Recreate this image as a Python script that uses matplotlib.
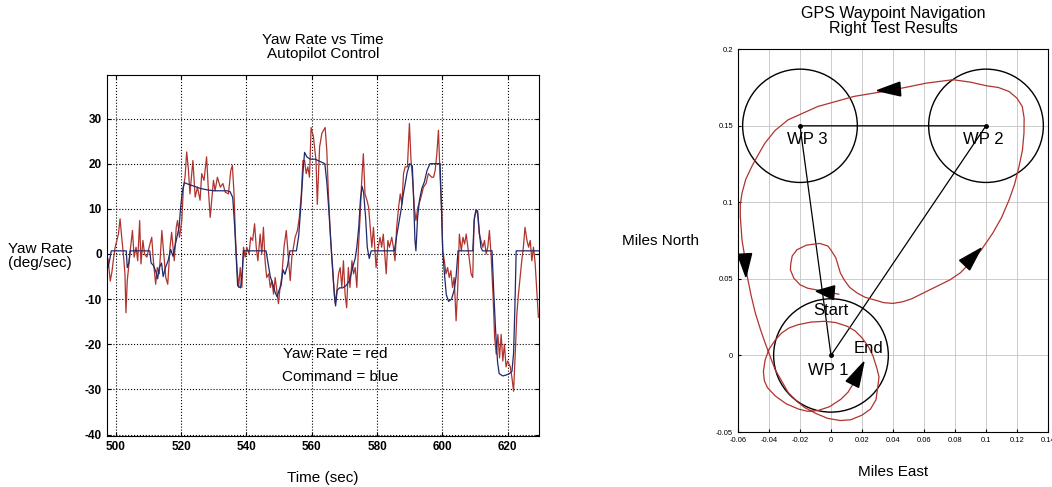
import matplotlib
matplotlib.use("Agg")
import matplotlib.pyplot as plt
from matplotlib.patches import Circle

plt.rcParams['font.family'] = ['Liberation Sans', 'DejaVu Sans']
plt.rcParams['axes.unicode_minus'] = False

# ---- Yaw rate vs time ----
red_t = [497.2, 497.6, 498.3, 498.8, 499.3, 499.8, 500.3, 500.8, 501.3, 501.8, 502.3, 502.8,
         503.1, 503.5, 503.9, 504.4, 505.1, 505.6, 506.2, 506.7, 507.3, 507.7, 508.3, 508.8,
         509.5, 510.2, 511.0, 511.5, 512.2, 512.7, 513.3, 514.1, 514.6, 515.3, 515.9, 516.6,
         517.1, 517.9, 518.5, 518.9, 519.5, 520.2, 520.7, 521.2, 521.7, 522.2, 522.7, 523.6,
         524.3, 525.0, 525.8, 526.3, 527.0, 527.8, 528.3, 528.9, 529.9, 530.4, 531.1, 532.0,
         532.8, 533.5, 534.5, 535.2, 535.7, 536.2, 536.6, 537.1, 537.6, 538.1, 538.6, 539.1,
         539.6, 540.1, 540.8, 541.3, 541.9, 542.5, 543.0, 543.5, 544.2, 544.7, 545.2, 545.7,
         546.2, 546.8, 547.3, 547.8, 548.3, 548.8, 549.3, 549.8, 550.3, 550.8, 551.5, 552.2,
         552.7, 553.4, 553.9, 554.4, 554.9, 555.6, 556.2, 556.8, 557.3, 557.8, 558.3, 558.8,
         559.3, 559.8, 560.5, 561.3, 561.7, 562.4, 563.1, 563.6, 564.1, 564.6, 565.1, 565.6,
         566.1, 566.6, 567.2, 567.7, 568.2, 568.7, 569.2, 569.7, 570.2, 570.7, 571.2, 571.7,
         572.3, 572.8, 573.3, 573.8, 574.3, 574.8, 575.3, 575.8, 576.3, 576.9, 577.4, 577.9,
         578.4, 578.9, 579.7, 580.2, 580.9, 581.4, 581.9, 582.8, 583.3, 583.8, 584.5, 585.0,
         585.5, 586.0, 586.6, 587.1, 587.6, 588.1, 588.6, 589.3, 589.9, 590.4, 590.9, 591.4,
         591.9, 592.5, 593.2, 593.7, 594.2, 595.0, 595.7, 596.7, 597.3, 597.8, 598.3, 598.8,
         599.3, 599.8, 600.1, 600.6, 601.1, 601.6, 602.1, 602.6, 603.1, 603.6, 604.2, 604.7,
         605.2, 605.8, 606.3, 606.8, 607.3, 607.8, 608.3, 608.8, 609.3, 609.7, 610.3, 610.8,
         611.3, 611.8, 612.4, 612.9, 613.4, 613.9, 614.4, 614.9, 615.5, 616.0, 616.5, 617.0,
         617.5, 618.0, 618.5, 619.0, 619.5, 620.0, 620.8, 621.3, 621.8, 622.3, 622.8, 623.3,
         623.8, 624.3, 624.8, 625.3, 625.9, 626.4, 626.9, 627.4, 627.9, 628.4, 628.9, 629.4]
red_v = [-3, -1, -6, -4, -1, 1.5, 3, 4.4, 7.8, 3.7, 0, -4.4,
         -13, -6, -3, 0.7, 5.2, -0.7, 1.5, -1.5, 7.4, -2.2, 3, 0,
         -0.7, 1.5, 3.7, -1.5, -6.7, -3, -4.4, 5.2, 0.7, -5.2, -6.7, 1.5,
         4.8, -1.5, 5.9, 7.4, 3.7, 7.4, 14.8, 17, 22.6, 19, 13.3, 20.7,
         12.6, 14.8, 11.9, 17.8, 16.3, 21.5, 14.8, 8.1, 16.3, 14, 17, 14.8,
         15.6, 13.7, 13.3, 18.5, 19.6, 13.3, 4.4, -3, -7.4, -3, -7.4, 1.5,
         -0.7, 1.5, 0, 3.7, 3, 6.7, 1.5, -1.5, 4.4, 0, 5.9, -1.5,
         -5.2, -4.4, -7.4, -5.9, -8.9, -5.2, -8.1, -11, -7.4, -5.2, 1.5, 5.2,
         0.7, -5.9, -0.7, 1.5, 3.7, 5.2, 8.1, 13.3, 20.7, 20.7, 17.8, 19.3,
         17, 28, 26, 20.7, 11, 23.7, 26.7, 27.4, 28, 23, 13.3, 5.9,
         -0.7, -5.9, -11, -8, -4.4, -3, -7.4, -1.5, -8.9, -11.9, -3, -7.4,
         -1.5, -4.4, -3, -7.4, 1.5, 8.1, 16.3, 22.2, 13.3, 11.9, 10.4, 5.9,
         1.5, 5.9, -3, 0.7, 3.7, 1.5, 4.4, -4.4, 3, 1.5, 3.7, 1.5,
         -1.5, 5.9, 10.4, 13.3, 11, 17.8, 19.3, 19.3, 28.9, 20.7, 16.3, 10.4,
         7.4, 10.4, 11.9, 13.3, 14.8, 15.6, 17.8, 17, 17, 18.5, 22.2, 27.4,
         17, 9.6, 0.7, -1.5, -4.4, -3, -5.2, -3.7, -7.4, -5.2, -14.8, -7.4,
         4.4, 0.7, 3.7, 2.2, 4.4, 1.5, -1.5, -4.4, -5.2, 7.4, 9.6, 8.9,
         4.4, 3, 1.5, 3, 0, 1.5, 5.2, 0, -8.9, -18.5, -22.2, -17.8,
         -23, -17.8, -23.7, -20, -25, -23.7, -25, -27.4, -30.4, -22.2, -13.3, -8.9,
         -5.2, -1.5, 1.5, 5.9, 3, 1.5, 3, -1.5, 1.5, -2, -8, -14]

blue_t = [497.2, 497.6, 498.2, 498.6, 503.2, 503.5, 504.0, 504.4, 510.4, 510.8, 511.5, 512.3,
          512.8, 513.3, 514.0, 514.5, 515.2, 516.0, 516.8, 517.5, 518.2, 518.8, 519.4, 519.8,
          520.4, 521.0, 522.0, 524.0, 526.0, 528.0, 530.0, 532.0, 534.0, 535.0, 535.8, 536.4,
          536.9, 537.3, 538.2, 538.7, 539.1, 546.0, 546.6, 547.3, 548.0, 548.8, 549.4, 550.0,
          550.6, 551.2, 551.8, 552.6, 553.3, 555.3, 556.0, 556.7, 557.3, 557.8, 558.5, 559.5,
          561.0, 562.5, 564.0, 564.6, 565.2, 565.8, 566.4, 566.9, 567.3, 567.8, 568.5, 569.5,
          570.5, 571.5, 572.5, 573.3, 573.8, 574.4, 574.9, 575.4, 575.9, 576.5, 577.0, 577.6,
          578.2, 585.3, 586.0, 586.7, 587.4, 588.0, 588.6, 589.2, 590.0, 590.8, 591.2, 591.6,
          591.9, 592.4, 593.0, 593.7, 594.5, 595.3, 596.2, 599.3, 599.7, 600.1, 600.7, 601.2,
          601.9, 602.8, 603.6, 604.2, 604.8, 609.3, 609.8, 610.3, 610.8, 611.3, 611.8, 612.3,
          615.2, 615.7, 616.3, 616.9, 617.4, 618.5, 619.5, 620.5, 621.3, 621.8, 622.2, 622.6,
          629.5]
blue_v = [-2, -3, -1, 0.7, 0.7, -3, -2, 0.7, 0.7, -2, -2.5, -4,
          -5.5, -3, -2, -5, -3, -1.5, 1, -0.5, 2, 4, 6, 10,
          14, 15.8, 15.5, 15, 14.5, 14.2, 14, 14, 14, 13.8, 12.5, 6,
          -1, -7, -7.5, -4, 0.7, 0.7, -2, -5, -6.5, -8.5, -9.5, -8,
          -7, -3.5, -4.5, -2.5, 0.7, 0.7, 4, 11, 18, 22.5, 21.5, 21,
          21, 20.5, 20, 16, 10, 3, -3, -9, -11.5, -8, -7.5, -7.5,
          -7, -6, -3, -1, 1.5, 6, 12, 15, 13.5, 8, 1.5, -1,
          0.7, 0.7, 4, 7, 10, 13, 15.5, 18, 20, 19.5, 12, 3,
          0.7, 8, 12, 14.5, 16, 18.5, 20, 20, 10, 0.7, -5, -9,
          -10.5, -10, -8, -5, 0.7, 0.7, 8, 9.8, 9.5, 5, 1.5, 0.7,
          0.7, -8, -17, -24, -26.5, -27, -26.8, -26.5, -26, -22, -12, 0.7,
          0.7]

time_ticks = [500, 520, 540, 560, 580, 600, 620]
yaw_ticks = [-40, -30, -20, -10, 0, 10, 20, 30]

# ---- GPS waypoint navigation ----
wp_east = [0.0, 0.1, -0.02]
wp_north = [0.0, 0.15, 0.15]
wp_radius = 0.037

path_east = [0.005, -0.005, -0.015, -0.020, -0.024, -0.0262, -0.0259, -0.025, -0.022, -0.016,
             -0.0074, -0.002, 0.0, 0.003, 0.0042, 0.006, 0.0085, 0.012, 0.017, 0.022,
             0.0276, 0.034, 0.040, 0.046, 0.052, 0.060, 0.068, 0.0766, 0.0835, 0.0894,
             0.097, 0.1043, 0.110, 0.1149, 0.1185, 0.1213, 0.1235, 0.1245, 0.1246, 0.1234,
             0.120, 0.1149, 0.108, 0.100, 0.090, 0.0787, 0.0617, 0.0404, 0.0149, -0.0085,
             -0.0277, -0.036, -0.0426, -0.047, -0.0511, -0.055, -0.0574, -0.0585, -0.0585, -0.0574,
             -0.0553, -0.054, -0.0515, -0.0488, -0.0455, -0.0425, -0.0361, -0.0276, -0.022, -0.017,
             -0.0095, -0.0021, 0.006, 0.0127, 0.020, 0.0255, 0.029, 0.030, 0.031, 0.0295,
             0.027, 0.024, 0.020, 0.0156, 0.0106, 0.003, -0.0042, -0.013, -0.0212, -0.027,
             -0.0318, -0.036, -0.040, -0.0425, -0.0436, -0.043, -0.041, -0.036, -0.029, -0.021,
             -0.015, -0.0085, -0.001, 0.0064, 0.011, 0.014, 0.018, 0.021]
path_north = [0.040, 0.042, 0.0439, 0.0462, 0.0505, 0.056, 0.0602, 0.065, 0.069, 0.072,
              0.0732, 0.0715, 0.0688, 0.064, 0.0602, 0.054, 0.0494, 0.0445, 0.0407, 0.038,
              0.0364, 0.0345, 0.034, 0.035, 0.037, 0.041, 0.045, 0.0493, 0.054, 0.0602,
              0.069, 0.0798, 0.090, 0.1016, 0.112, 0.1234, 0.134, 0.1452, 0.155, 0.1626,
              0.168, 0.1724, 0.175, 0.1762, 0.1785, 0.1801, 0.1779, 0.1735, 0.1692, 0.1626,
              0.1539, 0.147, 0.1387, 0.131, 0.1234, 0.115, 0.106, 0.0985, 0.0907, 0.0754,
              0.0623, 0.0515, 0.039, 0.0277, 0.017, 0.0082, -0.0091, -0.0242, -0.030, -0.034,
              -0.038, -0.0411, -0.0425, -0.042, -0.039, -0.035, -0.029, -0.022, -0.014, -0.008,
              0.0, 0.006, 0.0115, 0.016, 0.019, 0.0215, 0.0223, 0.0218, 0.0201, 0.018,
              0.0147, 0.010, 0.004, -0.003, -0.0104, -0.0165, -0.021, -0.0264, -0.0315, -0.035,
              -0.0365, -0.036, -0.0335, -0.0286, -0.024, -0.019, -0.012, -0.005]

# arrow heads along the flown path: base point -> tip point
arrow_base_e = [0.002, 0.0862, 0.0447, -0.0557, 0.0138]
arrow_base_n = [0.041, 0.059, 0.174, 0.0663, -0.0188]
arrow_tip_e = [-0.0096, 0.0968, 0.0298, -0.0549, 0.0212]
arrow_tip_n = [0.042, 0.070, 0.173, 0.0514, -0.0043]

east_ticks = [-0.06, -0.04, -0.02, 0, 0.02, 0.04, 0.06, 0.08, 0.1, 0.12, 0.14]
east_labels = ["-0.06", "-0.04", "-0.02", "0", "0.02", "0.04", "0.06", "0.08", "0.1", "0.12", "0.14"]
north_ticks = [-0.05, 0, 0.05, 0.1, 0.15, 0.2]
north_labels = ["-0.05", "0", "0.05", "0.1", "0.15", "0.2"]

fig = plt.figure(figsize=(10.52, 4.87), dpi=100)

# left panel
ax1 = fig.add_axes([0.1014, 0.1047, 0.411, 0.741])
ax1.plot(red_t, red_v, color="#b0332e", lw=0.9)
ax1.plot(blue_t, blue_v, color="#1f2a6b", lw=0.9)
ax1.set_xlim(497.2, 629.6)
ax1.set_ylim(-40.3, 39.6)
ax1.set_xticks(time_ticks)
ax1.set_yticks(yaw_ticks)
ax1.grid(True, color="black", linestyle=":", lw=0.8)
ax1.tick_params(direction="in", labelsize=8.5, length=3, top=True, right=True)
for lab in ax1.get_xticklabels() + ax1.get_yticklabels():
    lab.set_fontweight("bold")
ax1.set_title("Yaw Rate vs Time\nAutopilot Control", fontsize=11, linespacing=1.0, pad=12)
ax1.set_xlabel("Time (sec)", fontsize=11, labelpad=13)
ax1.set_ylabel("Yaw Rate\n(deg/sec)", fontsize=11, rotation=0, ha="center", va="center",
               labelpad=32, linespacing=1.0)
ax1.text(0.528, 0.227, "Yaw Rate = red", transform=ax1.transAxes, fontsize=11,
         ha="center", va="center")
ax1.text(0.539, 0.163, "Command = blue", transform=ax1.transAxes, fontsize=11,
         ha="center", va="center")

# right panel
ax2 = fig.add_axes([0.7015, 0.1129, 0.2947, 0.786])
ax2.set_xlim(-0.06, 0.14)
ax2.set_ylim(-0.05, 0.2)
ax2.set_xticks(east_ticks)
ax2.set_xticklabels(east_labels)
ax2.set_yticks(north_ticks)
ax2.set_yticklabels(north_labels)
ax2.grid(True, color="#c4c4c4", linestyle="-", lw=0.6)
ax2.tick_params(direction="in", labelsize=5.5, length=2)
ax2.set_axisbelow(True)

for e, n in zip(wp_east, wp_north):
    ax2.add_patch(Circle((e, n), wp_radius, fill=False, edgecolor="black", lw=1.0))
route_e = [wp_east[0], wp_east[1], wp_east[2], wp_east[0]]
route_n = [wp_north[0], wp_north[1], wp_north[2], wp_north[0]]
ax2.plot(route_e, route_n, color="black", lw=0.9)
ax2.plot(wp_east, wp_north, "o", color="black", ms=2.5)
ax2.plot(path_east, path_north, color="#b0332e", lw=0.9)

for be, bn, te, tn in zip(arrow_base_e, arrow_base_n, arrow_tip_e, arrow_tip_n):
    de, dn = te - be, tn - bn
    length = (de ** 2 + dn ** 2) ** 0.5
    ax2.arrow(be, bn, de, dn, width=0, head_width=0.009, head_length=length,
              length_includes_head=True, color="black", zorder=5)

ax2.text(-0.015, 0.141, "WP 3", fontsize=12, ha="center", va="center")
ax2.text(0.098, 0.141, "WP 2", fontsize=12, ha="center", va="center")
ax2.text(-0.002, -0.0096, "WP 1", fontsize=12, ha="center", va="center")
ax2.text(0.0, 0.0296, "Start", fontsize=12, ha="center", va="center")
ax2.text(0.0243, 0.0046, "End", fontsize=12, ha="center", va="center")

ax2.set_title("GPS Waypoint Navigation\nRight Test Results", fontsize=11.5, linespacing=0.95, pad=12)
ax2.set_xlabel("Miles East", fontsize=11, labelpad=15)
ax2.set_ylabel("Miles North", fontsize=11, rotation=0, ha="center", va="center", labelpad=40)

fig.savefig("out.png", dpi=100)
